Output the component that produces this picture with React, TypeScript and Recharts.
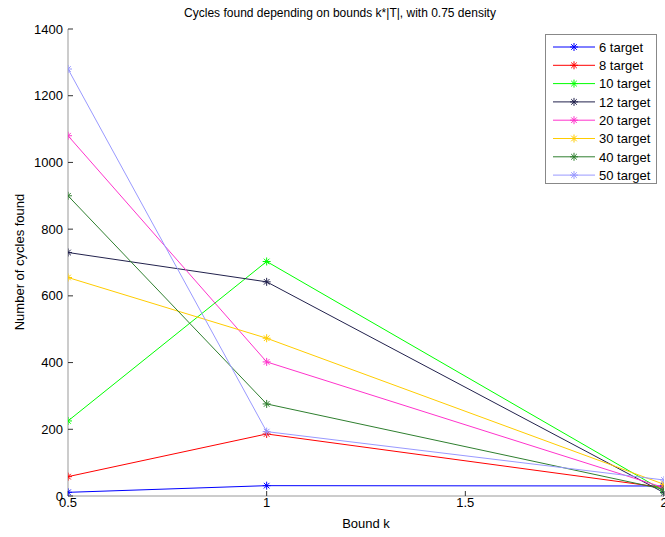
import React from 'react';
import { LineChart, Line, XAxis, YAxis, Legend } from 'recharts';

const bounds = [0.5, 1, 2];
const seriesNames = ['6 target', '8 target', '10 target', '12 target', '20 target', '30 target', '40 target', '50 target'];
const s6 = [11, 31, 30];
const s8 = [58, 186, 25];
const s10 = [225, 703, 15];
const s12 = [730, 642, 10];
const s20 = [1080, 402, 25];
const s30 = [655, 473, 35];
const s40 = [900, 276, 20];
const s50 = [1280, 193, 48];
const seriesValues = [s6, s8, s10, s12, s20, s30, s40, s50];
const colors = ['#0000ff', '#ff0000', '#00ff00', '#22224d', '#ff33cc', '#ffcc00', '#2f7f2f', '#9999ff'];
const xTicks = [0.5, 1, 1.5, 2];
const yTicks = [0, 200, 400, 600, 800, 1000, 1200, 1400];

const data = bounds.map((b, i) => {
  const row: Record<string, number> = { k: b };
  seriesNames.forEach((n, j) => {
    row[n] = seriesValues[j][i];
  });
  return row;
});

const FONT = 'Liberation Sans, Arial, sans-serif';

const Star = (props: any) => {
  const { cx, cy, stroke } = props;
  if (cx == null || cy == null) return null;
  const r = 4;
  const d = r * 0.7;
  return (
    <g>
      <path
        d={`M${cx - r},${cy}L${cx + r},${cy}M${cx},${cy - r}L${cx},${cy + r}M${cx - d},${cy - d}L${cx + d},${cy + d}M${cx - d},${cy + d}L${cx + d},${cy - d}`}
        stroke={stroke}
        strokeWidth={1}
        fill="none"
      />
    </g>
  );
};

const LegendBox = () => (
  <div
    style={{
      position: 'absolute',
      left: 545,
      top: 34,
      width: 112,
      height: 150,
      border: '1px solid #888',
      background: '#fff',
      boxSizing: 'border-box',
      fontFamily: FONT,
    }}
  >
    <svg width={112} height={150} style={{ position: 'absolute', left: 0, top: 0 }}>
      {seriesNames.map((n, i) => {
        const y = 12 + i * 18.3;
        return (
          <g key={n}>
            <line x1={7} x2={49} y1={y} y2={y} stroke={colors[i]} strokeWidth={1} />
            <Star cx={28} cy={y} stroke={colors[i]} />
            <text x={53} y={y + 4.7} fontSize={13} fontFamily={FONT} fill="#000">
              {n}
            </text>
          </g>
        );
      })}
    </svg>
  </div>
);

export default function App() {
  return (
    <div style={{ position: 'absolute', left: 0, top: 0, width: 665, height: 537, background: '#fff' }}>
      <LineChart width={665} height={537} data={data} margin={{ top: 29, right: 1, bottom: 0, left: 0 }}>
        <XAxis
          dataKey="k"
          type="number"
          domain={[0.5, 2]}
          ticks={xTicks}
          allowDataOverflow
          height={41}
          stroke="#999"
          tickSize={-5}
          tickMargin={7}
          tick={{ fill: '#000', fontSize: 13, fontFamily: FONT }}
          tickLine={{ stroke: '#333' }}
          interval={0}
        />
        <YAxis
          type="number"
          domain={[0, 1400]}
          ticks={yTicks}
          width={68}
          stroke="#999"
          tickSize={-5}
          tickMargin={10}
          tick={{ fill: '#000', fontSize: 13, fontFamily: FONT }}
          tickLine={{ stroke: '#333' }}
          interval={0}
        />
        {seriesNames.map((n, i) => (
          <Line
            key={n}
            dataKey={n}
            stroke={colors[i]}
            strokeWidth={1}
            type="linear"
            isAnimationActive={false}
            dot={(p: any) => <Star key={`${n}-${p.index}`} cx={p.cx} cy={p.cy} stroke={colors[i]} />}
            activeDot={false}
          />
        ))}
        <Legend content={() => <LegendBox />} wrapperStyle={{ position: 'absolute', left: 0, top: 0, width: 0, height: 0 }} />
        <text x={340} y={17} textAnchor="middle" fontSize={12} fontFamily={FONT} fill="#000">
          Cycles found depending on bounds k*|T|, with 0.75 density
        </text>
        <text x={366} y={528} textAnchor="middle" fontSize={13} fontFamily={FONT} fill="#000">
          Bound k
        </text>
        <text
          x={24}
          y={262}
          textAnchor="middle"
          fontSize={13}
          fontFamily={FONT}
          fill="#000"
          transform="rotate(-90 24 262)"
        >
          Number of cycles found
        </text>
      </LineChart>
    </div>
  );
}
